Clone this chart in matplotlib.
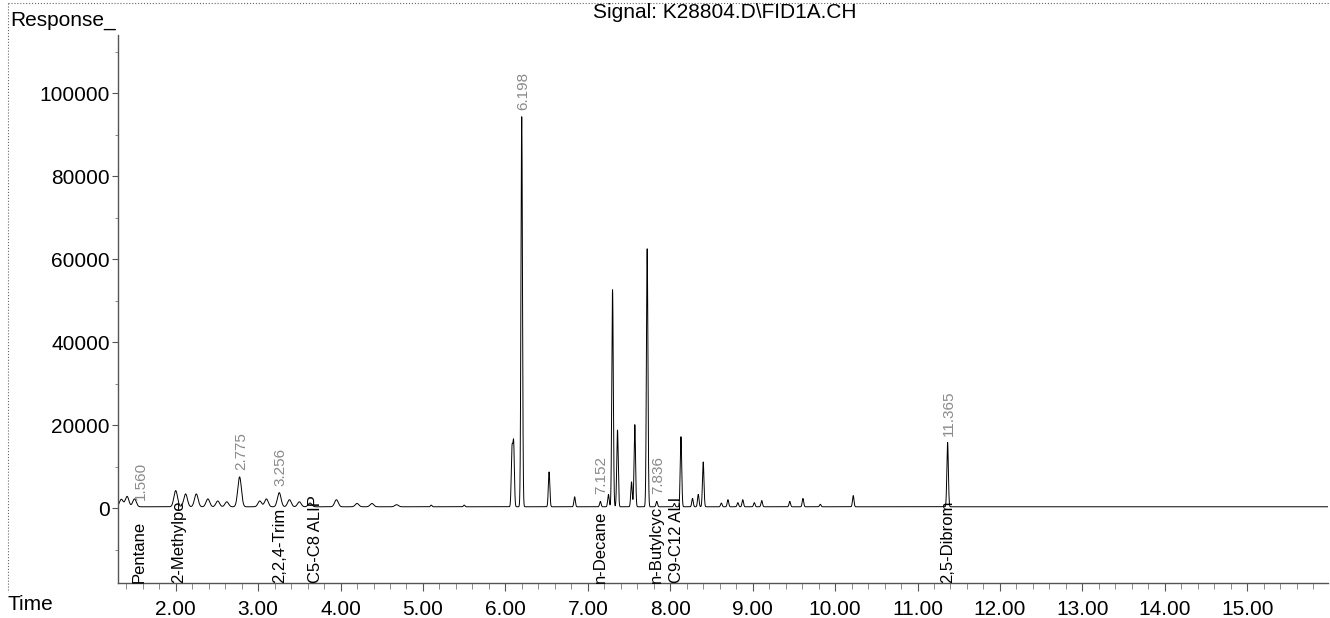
import numpy as np
import matplotlib
matplotlib.use("Agg")
import matplotlib.pyplot as plt
from matplotlib.lines import Line2D
from matplotlib.ticker import MultipleLocator, FormatStrFormatter

plt.rcParams['font.family'] = ['Liberation Sans', 'DejaVu Sans']

# peaks (retention time in min, response)
peak_times = [1.34, 1.41, 1.50, 2.00, 2.12, 2.25, 2.39, 2.51, 2.62, 2.775,
              3.02, 3.10, 3.256, 3.38, 3.50, 3.63, 3.95, 4.20, 4.38, 4.68,
              5.10, 5.50, 6.08, 6.10, 6.198, 6.53, 6.84, 7.152, 7.25, 7.30,
              7.36, 7.53, 7.57, 7.72, 7.836, 8.05, 8.13, 8.27, 8.34, 8.40,
              8.62, 8.70, 8.82, 8.88, 9.02, 9.11, 9.45, 9.61, 9.82, 10.22,
              11.365]
peak_heights = [1800, 2500, 1900, 3900, 3100, 3100, 1900, 1400, 1200, 7200,
                1400, 1900, 3400, 1700, 1200, 900, 1700, 800, 800, 500,
                400, 400, 13500, 14900, 94000, 8400, 2400, 1300, 3000, 52300,
                18500, 6000, 19800, 62200, 1300, 800, 16900, 2000, 3000, 10800,
                900, 1700, 1000, 1700, 1000, 1500, 1300, 2000, 600, 2700,
                15500]
baseline = 300

rt_labels = ['1.560', '2.775', '3.256', '6.198', '7.152', '7.836', '11.365']

compound_names = ['Pentane', '2-Methylpe', '2,2,4-Trim', 'C5-C8 ALIP',
                  'n-Decane', 'n-Butylcyc', 'C9-C12 ALI', '2,5-Dibrom']
compound_times = [1.56, 2.03, 3.256, 3.70, 7.152, 7.836, 8.07, 11.365]

x_min, x_max = 1.30, 15.98
y_min, y_max = -18070, 114000

t = np.linspace(x_min, x_max, 30000)
signal = np.full_like(t, baseline, dtype=float)
for rt, h in zip(peak_times, peak_heights):
    sigma = 0.022 if rt < 5 else 0.009
    signal += h * np.exp(-0.5 * ((t - rt) / sigma) ** 2)

W, H = 1330, 618
fig = plt.figure(figsize=(W / 100, H / 100), dpi=100)
ax = fig.add_axes([118 / W, 1 - 583 / H, (1328 - 118) / W, (583 - 35) / H])

ax.plot(t, signal, color='black', lw=0.7)

ax.set_xlim(x_min, x_max)
ax.set_ylim(y_min, y_max)

for side in ['top', 'right']:
    ax.spines[side].set_visible(False)
for side in ['left', 'bottom']:
    ax.spines[side].set_color('#555555')
    ax.spines[side].set_linewidth(1.0)

ax.xaxis.set_major_locator(MultipleLocator(1))
ax.xaxis.set_minor_locator(MultipleLocator(0.2))
ax.xaxis.set_major_formatter(FormatStrFormatter('%.2f'))
ax.set_yticks([0, 20000, 40000, 60000, 80000, 100000])
ax.yaxis.set_minor_locator(MultipleLocator(10000))
ax.tick_params(axis='x', which='major', length=6, color='#555555', labelsize=15, pad=6)
ax.tick_params(axis='x', which='minor', length=4, color='#777777')
ax.tick_params(axis='y', which='major', length=4, color='#555555', labelsize=15, pad=2)
ax.tick_params(axis='y', which='minor', length=2, color='#777777')

# retention time labels above peaks
for lab in rt_labels:
    rt = float(lab)
    i = int(np.argmin(np.abs(t - rt)))
    ax.annotate(lab, xy=(rt, signal[i]), xytext=(1, 5), textcoords='offset points',
                rotation=90, ha='center', va='bottom', color='#8a8a8a', fontsize=11)

# compound names along the bottom
for name, rt in zip(compound_names, compound_times):
    ax.text(rt, y_min, name, rotation=90, ha='center', va='bottom',
            fontsize=12, color='black')

fig.text(10 / W, 1 - 21 / H, 'Response_', fontsize=15, ha='left', va='center')
fig.text(8 / W, 1 - 605 / H, 'Time', fontsize=15, ha='left', va='center')
fig.text(725 / W, 1 - 13 / H, 'Signal: K28804.D\\FID1A.CH', fontsize=15,
         ha='center', va='center')

# page border
fig.add_artist(Line2D([8 / W, 1], [1 - 3 / H, 1 - 3 / H], color='#666666',
                      lw=0.8, linestyle=':', transform=fig.transFigure))
fig.add_artist(Line2D([8 / W, 8 / W], [1 - 3 / H, 1 - 592 / H], color='#666666',
                      lw=0.8, linestyle=':', transform=fig.transFigure))

fig.savefig('out.png', dpi=100)
